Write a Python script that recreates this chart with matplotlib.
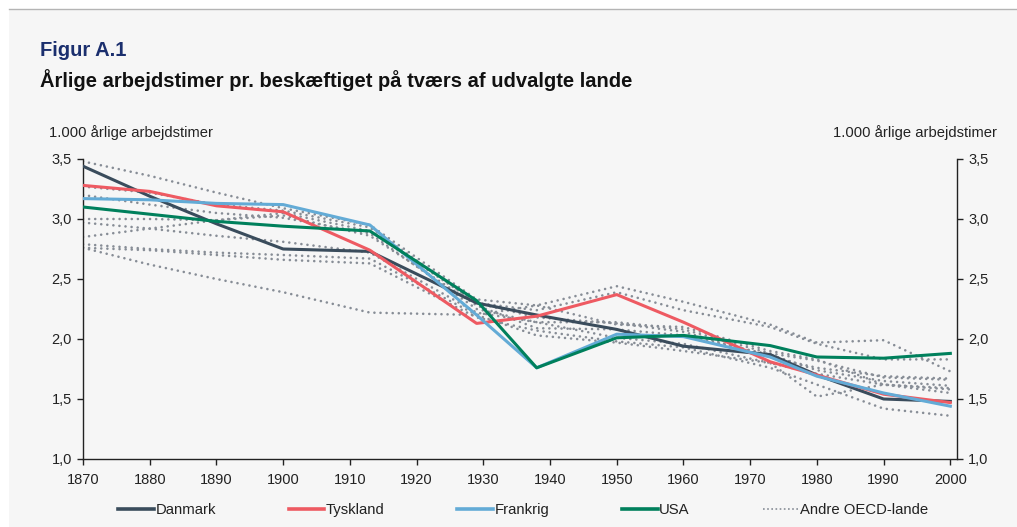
import matplotlib
matplotlib.use("Agg")
from matplotlib import pyplot as plt
from matplotlib.lines import Line2D
from matplotlib.patches import Rectangle

plt.rcParams["font.family"] = ["Liberation Sans", "DejaVu Sans"]

years = [1870, 1880, 1890, 1900, 1913, 1929, 1938, 1950, 1960, 1973, 1980, 1990, 2000]

danmark  = [3.44, 3.19, 2.96, 2.75, 2.73, 2.30, 2.20, 2.08, 1.94, 1.87, 1.70, 1.50, 1.48]
tyskland = [3.28, 3.23, 3.11, 3.06, 2.74, 2.13, 2.19, 2.37, 2.14, 1.81, 1.70, 1.54, 1.47]
frankrig = [3.17, 3.16, 3.13, 3.12, 2.95, 2.20, 1.76, 2.04, 2.02, 1.85, 1.69, 1.55, 1.44]
usa      = [3.10, 3.04, 2.98, 2.94, 2.90, 2.32, 1.76, 2.01, 2.03, 1.945, 1.85, 1.84, 1.88]

# andre OECD-lande (prikkede linjer)
andre = [
    [3.48, 3.36, 3.22, 3.09, 2.95, 2.33, 2.28, 2.44, 2.31, 2.12, 1.97, 1.99, 1.73],
    [3.27, 3.22, 3.12, 3.07, 2.93, 2.30, 2.24, 2.39, 2.24, 2.10, 1.96, 1.83, 1.83],
    [3.20, 3.12, 3.05, 3.01, 2.88, 2.25, 2.14, 2.14, 2.08, 1.88, 1.82, 1.68, 1.66],
    [3.00, 3.00, 2.99, 3.03, 2.86, 2.28, 2.09, 2.08, 2.03, 1.87, 1.74, 1.65, 1.61],
    [2.97, 2.92, 2.86, 2.81, 2.72, 2.22, 2.14, 2.01, 1.96, 1.80, 1.71, 1.62, 1.58],
    [2.85, 2.92, 2.99, 3.05, 2.90, 2.30, 2.18, 2.13, 2.06, 1.85, 1.76, 1.69, 1.67],
    [2.79, 2.75, 2.72, 2.70, 2.67, 2.20, 2.03, 1.97, 1.90, 1.80, 1.52, 1.62, 1.59],
    [2.76, 2.74, 2.70, 2.66, 2.63, 2.18, 2.07, 1.98, 1.93, 1.76, 1.62, 1.42, 1.36],
    [2.76, 2.62, 2.50, 2.39, 2.22, 2.20, 2.28, 2.12, 2.10, 1.90, 1.83, 1.62, 1.55],
]

yticks = [1.0, 1.5, 2.0, 2.5, 3.0, 3.5]
xticks = list(range(1870, 2001, 10))

serier = [("Danmark", danmark, "#3a4c5c"),
          ("Tyskland", tyskland, "#ee5a62"),
          ("Frankrig", frankrig, "#63abd6"),
          ("USA", usa, "#00805c")]
dotcol = "#878d96"
bg = "#f6f6f6"
txt = "#222222"

fig = plt.figure(figsize=(10.17, 5.27), dpi=100)
fig.patch.set_facecolor("white")
fig.patches.append(Rectangle((9 / 1017, 0), 1, 1 - 9 / 527, transform=fig.transFigure,
                             facecolor=bg, edgecolor="none", zorder=-10))
fig.add_artist(Line2D([9 / 1017, 1], [1 - 9 / 527, 1 - 9 / 527], color="#b4b4b4", lw=1))

ax = fig.add_axes([83 / 1017, 1 - 459 / 527, 874 / 1017, 300 / 527])
ax.set_facecolor(bg)

for o in andre:
    ax.plot(years, o, color=dotcol, lw=1.9, linestyle=(0, (0.01, 2.3)),
            dash_capstyle="round", zorder=2)
for navn, v, c in serier:
    ax.plot(years, v, color=c, lw=2.2, zorder=3)

ax.set_xlim(1870, 2001)
ax.set_ylim(1.0, 3.5)
ax.set_xticks(xticks)
ax.set_yticks(yticks)
ax.set_yticklabels([f"{t:.1f}".replace(".", ",") for t in yticks])
ax.tick_params(axis="both", labelsize=10.5, length=4, width=1, color=txt,
               labelcolor=txt, direction="out")
ax.tick_params(axis="y", right=True, labelright=True, pad=4)
ax.tick_params(axis="x", pad=6)
ax.spines["top"].set_visible(False)
for s in ["left", "right", "bottom"]:
    ax.spines[s].set_color(txt)
    ax.spines[s].set_linewidth(1)

fig.text(40 / 1017, 1 - 50 / 527, "Figur A.1", fontsize=14.5, fontweight="bold",
         color="#1b2f6e", va="center", ha="left")
fig.text(40 / 1017, 1 - 80 / 527,
         "Årlige arbejdstimer pr. beskæftiget på tværs af udvalgte lande",
         fontsize=14.5, fontweight="bold", color="#111111", va="center", ha="left")
fig.text(49 / 1017, 1 - 133 / 527, "1.000 årlige arbejdstimer", fontsize=10.6,
         color=txt, va="center", ha="left")
fig.text(997 / 1017, 1 - 133 / 527, "1.000 årlige arbejdstimer", fontsize=10.6,
         color=txt, va="center", ha="right")

handles = [Line2D([], [], color=c, lw=2.6) for _, _, c in serier]
handles.append(Line2D([], [], color=dotcol, lw=1.2, linestyle=(0, (1, 1.5))))
labels = [n for n, _, _ in serier] + ["Andre OECD-lande"]
fig.legend(handles, labels, loc="center", bbox_to_anchor=(523 / 1017, 1 - 510 / 527),
           ncol=5, frameon=False, fontsize=10.7, handlelength=2.4, handletextpad=0.1,
           columnspacing=4.9, labelcolor=txt)

fig.savefig("out.png", dpi=100, facecolor=fig.get_facecolor())
